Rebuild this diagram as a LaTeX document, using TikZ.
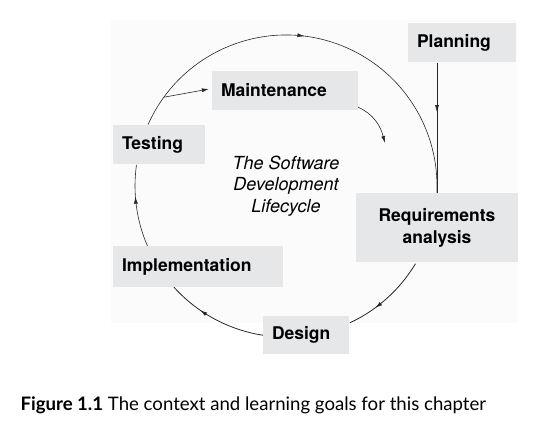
\documentclass[tikz,border=0pt]{standalone}
\usepackage{fontspec}
\setsansfont{TeX Gyre Heros}
\newfontfamily\captionfont{Lato}
\usetikzlibrary{arrows.meta,decorations.markings,calc}
\definecolor{boxgray}{RGB}{229,231,233}
\definecolor{pagegray}{RGB}{251,251,251}
\definecolor{linegray}{RGB}{40,40,40}
\begin{document}
\begin{tikzpicture}[x=1pt,y=1pt,
stage/.style={fill=boxgray,inner xsep=9pt,inner ysep=0pt,align=left,minimum height=39pt,
  font=\sffamily\bfseries\fontsize{17.5}{22}\selectfont},
flow/.style={draw=linegray,line width=0.6pt},
midarrow/.style={postaction={decorate},decoration={markings,
  mark=at position #1 with {\arrow{Latex[length=7pt,width=4pt]}}}}]
\useasboundingbox (0,0) rectangle (541,426);
\fill[pagegray] (111,103) rectangle (517,406);
\coordinate (cyc) at (286,240);

% the cycle
\draw[flow,midarrow=0.46] (cyc) ++(156:151) arc (156:-2.7:151);
\draw[flow,line width=0.8pt,midarrow=0.67] (cyc) ++(-31:151) arc (-31:-65:151);
\draw[flow,line width=0.8pt,midarrow=0.66] (cyc) ++(-98.8:151) arc (-98.8:-137.9:151);
\draw[flow,midarrow=0.62] (cyc) ++(-156.3:151) arc (-156.3:-188:151);
\coordinate (branch) at ($(cyc)+(144:151)$);

\draw (462,383) node[stage,text width=90pt] (planning) {Planning};
\draw (285,335.5) node[stage,text width=128pt] (maintenance) {Maintenance};
\draw (159,281.5) node[stage,text width=74pt] (testing) {Testing};
\draw (437,198.5) node[stage,text width=144pt,align=center,minimum height=69pt] (req) {Requirements\\analysis};
\draw (198,159.5) node[stage,text width=152pt,minimum height=41pt] (impl) {Implementation};
\draw (306,91) node[stage,text width=68pt,minimum height=38pt] (design) {Design};
\draw (cyc) node[align=center,font=\sffamily\itshape\fontsize{18}{21.5}\selectfont] (title) {The Software\\Development\\Lifecycle};
\coordinate (mtarget) at (385,283);

\draw[flow,midarrow=0.38] (planning.south -| req.north) -- (req.north);
\draw[flow,-{Latex[length=7pt,width=4pt]},shorten >=3pt] (branch) -- ([yshift=2pt]maintenance.west);
\draw[flow,-{Latex[length=7pt,width=4pt]}] ([yshift=3pt]maintenance.south east) to[out=-25,in=105] (mtarget);

\draw (17,16) node[anchor=base west,font=\captionfont\fontsize{18.6}{22}\selectfont] (caption) {\textbf{Figure 1.1} The context and learning goals for this chapter};
\end{tikzpicture}
\end{document}
